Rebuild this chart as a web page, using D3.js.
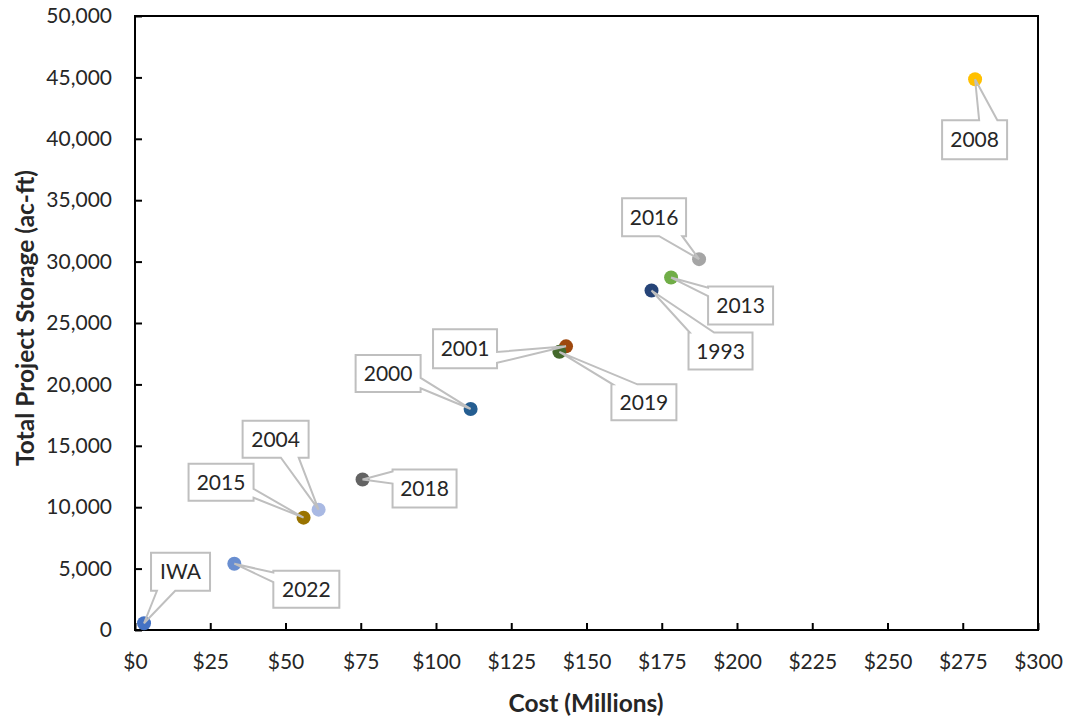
<!DOCTYPE html>
<html><head><meta charset="utf-8">
<script src="https://cdn.jsdelivr.net/npm/d3@7"></script>
<style>body{margin:0;background:#fff}svg{display:block}</style>
</head><body>
<svg id="c" width="1068" height="717"></svg>
<script>
// ---- data ----
const names   = ["IWA","2022","2015","2004","2018","2000","2001","2019","1993","2013","2016","2008"];
const costs   = [3, 33, 56, 61, 75.6, 111.5, 143.2, 141, 171.6, 178.1, 187.4, 279.1];   // $ millions
const storage = [550, 5400, 9150, 9800, 12250, 18000, 23100, 22650, 27650, 28700, 30200, 44850]; // ac-ft
const colors  = ["#4472C4","#698ED0","#997300","#A9B9E3","#636363","#255E91","#9E480E","#43682B","#264478","#70AD47","#A5A5A5","#FFC000"];
const xTicks  = [0,25,50,75,100,125,150,175,200,225,250,275,300];
const yTicks  = [0,5000,10000,15000,20000,25000,30000,35000,40000,45000,50000];
// label callout layout (pixel offsets of box centre from point, box size, wedge side & base fractions)
const labelLayout = [
  {dx:36.5, dy:-51.5, w:59, h:38, side:"bottom", t0:0.10, t1:0.41},
  {dx:72,   dy:25.5,  w:66, h:37, side:"left",   t0:0.05, t1:0.31},
  {dx:-82.5,dy:-35.5, w:65, h:37, side:"right",  t0:0.68, t1:0.92},
  {dx:-43,  dy:-70.5, w:66, h:37, side:"bottom", t0:0.58, t1:0.85},
  {dx:62,   dy:9,     w:64, h:38, side:"left",   t0:0.05, t1:0.37},
  {dx:-82.5,dy:-35.5, w:65, h:37, side:"right",  t0:0.62, t1:0.90},
  {dx:-101, dy:2.5,   w:64, h:39, side:"right",  t0:0.58, t1:0.86},
  {dx:84.5, dy:50.5,  w:65, h:36, side:"top",    t0:0.02, t1:0.40},
  {dx:69,   dy:60.5,  w:64, h:37, side:"top",    t0:0.02, t1:0.40},
  {dx:69.5, dy:28,    w:65, h:38, side:"left",   t0:0.03, t1:0.25},
  {dx:-45,  dy:-42,   w:64, h:38, side:"bottom", t0:0.58, t1:0.94},
  {dx:-0.5, dy:60.5,  w:65, h:39, side:"top",    t0:0.57, t1:0.85}
];

const FONT = "Lato, 'Open Sans', sans-serif";
const svg = d3.select("#c");
const L = 135, R = 1038, T = 16, B = 630;
const x = d3.scaleLinear().domain([0,300]).range([L,R]);
const y = d3.scaleLinear().domain([0,50000]).range([B,T]);

// axes
const xAxis = d3.axisBottom(x).tickValues(xTicks).tickSize(-7).tickPadding(23)
  .tickFormat(d => "$" + d);
const yAxis = d3.axisLeft(y).tickValues(yTicks).tickSize(-7).tickPadding(23)
  .tickFormat(d3.format(","));
const gx = svg.append("g").attr("transform",`translate(0,${B})`).call(xAxis);
const gy = svg.append("g").attr("transform",`translate(${L},0)`).call(yAxis);
[gx,gy].forEach(g=>{
  g.select(".domain").remove();
  g.selectAll(".tick line").attr("stroke","#000").attr("stroke-width",2);
  g.selectAll(".tick text").attr("fill","#262626").style("font-family",FONT).style("font-size","21px");
});
gx.selectAll(".tick text").attr("dy","0.75em");
// frame
svg.append("rect").attr("x",L).attr("y",T).attr("width",R-L).attr("height",B-T)
  .attr("fill","none").attr("stroke","#000").attr("stroke-width",2);

// axis titles
svg.append("text").attr("x",586).attr("y",712).attr("text-anchor","middle")
  .style("font-family",FONT).style("font-size","24.5px").style("font-weight","bold").attr("fill","#262626")
  .text("Cost (Millions)");
svg.append("text").attr("transform",`translate(34,318) rotate(-90)`).attr("text-anchor","middle")
  .style("font-family",FONT).style("font-size","24.5px").style("font-weight","bold").attr("fill","#262626")
  .text("Total Project Storage (ac-ft)");

// points
svg.append("g").selectAll("circle").data(names).join("circle")
  .attr("cx",(d,i)=>x(costs[i])).attr("cy",(d,i)=>y(storage[i])).attr("r",7)
  .attr("fill",(d,i)=>colors[i]);

// callout labels
function calloutPath(px,py,Lb,Tb,w,h,side,t0,t1){
  const Rb=Lb+w, Bb=Tb+h;
  let pts;
  if(side==="top") pts=[[Lb,Tb],[Lb+t0*w,Tb],[px,py],[Lb+t1*w,Tb],[Rb,Tb],[Rb,Bb],[Lb,Bb]];
  else if(side==="right") pts=[[Lb,Tb],[Rb,Tb],[Rb,Tb+t0*h],[px,py],[Rb,Tb+t1*h],[Rb,Bb],[Lb,Bb]];
  else if(side==="bottom") pts=[[Lb,Tb],[Rb,Tb],[Rb,Bb],[Lb+t1*w,Bb],[px,py],[Lb+t0*w,Bb],[Lb,Bb]];
  else pts=[[Lb,Tb],[Rb,Tb],[Rb,Bb],[Lb,Bb],[Lb,Tb+t1*h],[px,py],[Lb,Tb+t0*h]];
  return "M"+pts.map(p=>p.join(",")).join("L")+"Z";
}
const lg = svg.append("g");
names.forEach((n,i)=>{
  const lay = labelLayout[i];
  const px = x(costs[i]), py = y(storage[i]);
  const cx = px+lay.dx, cy = py+lay.dy;
  const Lb = cx-lay.w/2, Tb = cy-lay.h/2;
  lg.append("rect").attr("x",Lb).attr("y",Tb).attr("width",lay.w).attr("height",lay.h).attr("fill","#fff");
  lg.append("path").attr("d",calloutPath(px,py,Lb,Tb,lay.w,lay.h,lay.side,lay.t0,lay.t1))
    .attr("fill","none").attr("stroke","#BFBFBF").attr("stroke-width",2).attr("stroke-linejoin","miter");
  lg.append("text").attr("x",cx).attr("y",cy).attr("dy","0.36em").attr("text-anchor","middle")
    .style("font-family",FONT).style("font-size","21px").attr("fill","#262626").text(n);
});
</script>
</body></html>
